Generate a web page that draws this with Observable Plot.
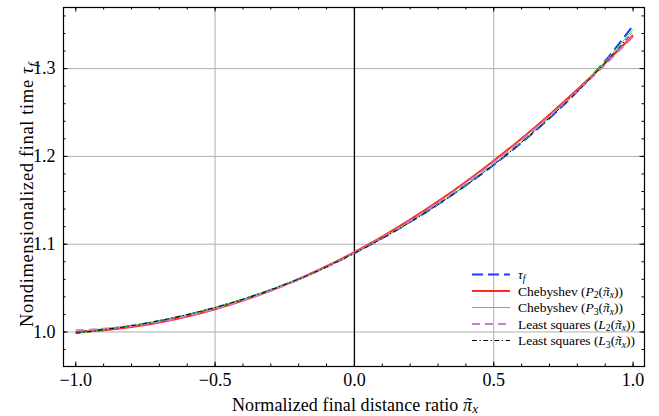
<!DOCTYPE html>
<html><head><meta charset="utf-8">
<script src="https://cdn.jsdelivr.net/npm/d3@7"></script>
<script src="https://cdn.jsdelivr.net/npm/@observablehq/plot@0.6"></script>
<style>body{margin:0;background:#fff}</style>
</head><body><div id="chart"></div>
<script>
// ---- data ----
const xs = [-1.0,-0.9,-0.8,-0.7,-0.6,-0.5,-0.4,-0.3,-0.2,-0.1,0.0,0.1,0.2,0.3,0.4,0.5,0.6,0.7,0.8,0.9,1.0];
const tauF = [1.0000,1.0029,1.0070,1.0125,1.0194,1.0276,1.0371,1.0480,1.0604,1.0744,1.0899,1.1069,1.1253,1.1453,1.1670,1.1904,1.2158,1.2435,1.2741,1.3088,1.3490];
const chebP2 = [1.0000,1.0021,1.0057,1.0109,1.0177,1.0260,1.0359,1.0473,1.0603,1.0749,1.0910,1.1087,1.1279,1.1487,1.1711,1.1950,1.2205,1.2475,1.2761,1.3063,1.3380];
const chebP3 = [0.9980,1.0023,1.0070,1.0129,1.0199,1.0281,1.0376,1.0484,1.0606,1.0745,1.0899,1.1068,1.1252,1.1452,1.1670,1.1906,1.2162,1.2442,1.2748,1.3082,1.3445];
const lsqL2 = [1.0020,1.0037,1.0069,1.0117,1.0182,1.0262,1.0358,1.0469,1.0597,1.0740,1.0899,1.1074,1.1265,1.1472,1.1694,1.1933,1.2187,1.2458,1.2744,1.3046,1.3365];
const lsqL3 = [0.9985,1.0025,1.0071,1.0129,1.0198,1.0279,1.0373,1.0481,1.0603,1.0742,1.0897,1.1067,1.1252,1.1453,1.1671,1.1907,1.2162,1.2439,1.2740,1.3067,1.3420];

const xMajor = [-1.0,-0.5,0.0,0.5,1.0];
const xMinor = [-1.0,-0.9,-0.8,-0.7,-0.6,-0.5,-0.4,-0.3,-0.2,-0.1,0.0,0.1,0.2,0.3,0.4,0.5,0.6,0.7,0.8,0.9,1.0];
const xGrid = [-0.5,0.5];
const xZero = [0.0];
const yMajor = [1.0,1.1,1.2,1.3];
const yMinor = [0.98,1.0,1.02,1.04,1.06,1.08,1.1,1.12,1.14,1.16,1.18,1.2,1.22,1.24,1.26,1.28,1.3,1.32,1.34,1.36];

const seriesNames = ["tau","P2","P3","L2","L3"];
const seriesValues = [tauF, chebP2, chebP3, lsqL2, lsqL3];

// ---- styles ----
const styles = {
  tau: {stroke:"#1a3cff", strokeWidth:2, dash:"11,5"},
  P2:  {stroke:"#ff2a1a", strokeWidth:2, dash:null},
  P3:  {stroke:"#2ee62e", strokeWidth:1, dash:null},
  L2:  {stroke:"#c77cd0", strokeWidth:2, dash:"8,5"},
  L3:  {stroke:"#000000", strokeWidth:1, dash:"5,2.5,1.2,2.5"}
};

const W = 659, H = 416, mL = 63, mR = 15, mT = 7, mB = 50;
const innerW = W - mL - mR, innerH = H - mT - mB;
const FONT = "Liberation Serif, serif";
const fmt = d => d.toFixed(1).replace("-", "\u2212");

const lineMarks = seriesNames.map((name, i) => {
  const s = styles[name];
  const rows = xs.map((x, j) => ({x, y: seriesValues[i][j]}));
  return Plot.line(rows, {x:"x", y:"y", stroke:s.stroke, strokeWidth:s.strokeWidth,
    strokeDasharray:s.dash, curve:"catmull-rom", strokeLinecap:"butt"});
});

const svg = Plot.plot({
  width: W, height: H,
  marginLeft: mL, marginRight: mR, marginTop: mT, marginBottom: mB,
  x: {domain: [-1.044, 1.041]},
  y: {domain: [0.9607, 1.3696]},
  style: {fontFamily: FONT, fontSize: "18px", background: "white", color: "black", overflow: "visible"},
  marks: [
    Plot.ruleY(yMajor, {y: d => d, stroke: "#b0b0b0", strokeWidth: 1}),
    Plot.ruleX(xGrid, {x: d => d, stroke: "#b0b0b0", strokeWidth: 1}),
    Plot.ruleX(xZero, {x: d => d, stroke: "black", strokeWidth: 1.3}),
    ...lineMarks,
    // inward ticks, all four sides
    Plot.tickX(xMajor, {x: d => d, insetTop: innerH - 4.5, stroke: "black"}),
    Plot.tickX(xMajor, {x: d => d, insetBottom: innerH - 4.5, stroke: "black"}),
    Plot.tickX(xMinor, {x: d => d, insetTop: innerH - 2.5, stroke: "black"}),
    Plot.tickX(xMinor, {x: d => d, insetBottom: innerH - 2.5, stroke: "black"}),
    Plot.tickY(yMajor, {y: d => d, insetRight: innerW - 4.5, stroke: "black"}),
    Plot.tickY(yMajor, {y: d => d, insetLeft: innerW - 4.5, stroke: "black"}),
    Plot.tickY(yMinor, {y: d => d, insetRight: innerW - 2.5, stroke: "black"}),
    Plot.tickY(yMinor, {y: d => d, insetLeft: innerW - 2.5, stroke: "black"}),
    Plot.frame({stroke: "black", strokeWidth: 1.2}),
    Plot.axisX({ticks: xMajor, tickSize: 0, tickPadding: 7, tickFormat: fmt, label: null, fontSize: 18, fontFamily: FONT}),
    Plot.axisY({ticks: yMajor, tickSize: 0, tickPadding: 8, tickFormat: fmt, label: null, fontSize: 18, fontFamily: FONT})
  ]
});

document.getElementById("chart").appendChild(svg);
const s = d3.select(svg);

// build a text from parts: kinds "" (roman), "i" (italic), "sub" (subscript), "pi" (italic pi with tilde)
function buildText(t, parts, size, subShift) {
  let sub = false;
  const fixes = [];
  const sd = size * (subShift || 0.2);
  parts.forEach(([txt, kind]) => {
    const sp = t.append("tspan").text(txt);
    if (kind === "i" || kind === "pi") sp.attr("font-style", "italic");
    if (kind === "sub") {
      sp.attr("font-size", size * 0.72).attr("dy", sd);
      if (/[a-z]/.test(txt)) sp.attr("font-style", "italic");
      sub = true;
    } else if (sub) { sp.attr("dy", -sd); sub = false; }
    if (kind === "pi") {
      const tl = t.append("tspan").text("\u02dc");
      fixes.push([sp, tl]);
    }
  });
  // center the tilde over pi, inline in the same text element
  fixes.forEach(([p, tl]) => {
    const wp = p.node().getComputedTextLength();
    const wt = tl.node().getComputedTextLength();
    const shift = size * 0.07;
    tl.attr("dx", -(wp + wt) / 2 + shift);
    const next = tl.node().nextSibling;
    const back = (wp - wt) / 2 - shift;
    if (next) d3.select(next).attr("dx", back);
  });
}

// ---- axis titles ----
const XT = 18;
const xl = s.append("text").attr("x", 232).attr("y", 410.5)
  .attr("text-anchor", "start").attr("font-family", FONT).attr("font-size", XT).attr("fill", "black");
buildText(xl, [["Normalized final distance ratio ", ""], ["\u03c0", "pi"], ["x", "sub"]], XT, 0.14);
xl.attr("textLength", 246).attr("lengthAdjust", "spacing");

const YT = 18.5;
const yl = s.append("text").attr("transform", `translate(33,327) rotate(-90)`)
  .attr("text-anchor", "start").attr("font-family", FONT).attr("font-size", YT).attr("fill", "black");
buildText(yl, [["Nondimensionalized final time ", ""], ["\u03c4", "i"], ["f", "sub"]], YT);
yl.attr("textLength", 264).attr("lengthAdjust", "spacing");

// ---- legend ----
const legendEntries = [
  {key: "tau", len: null, parts: [["\u03c4", "i"], ["f", "sub"]]},
  {key: "P2", len: 105, parts: [["Chebyshev (", ""], ["P", "i"], ["2", "sub"], ["(", ""], ["\u03c0", "pi"], ["x", "sub"], ["))", ""]]},
  {key: "P3", len: 105, parts: [["Chebyshev (", ""], ["P", "i"], ["3", "sub"], ["(", ""], ["\u03c0", "pi"], ["x", "sub"], ["))", ""]]},
  {key: "L2", len: 117, parts: [["Least squares (", ""], ["L", "i"], ["2", "sub"], ["(", ""], ["\u03c0", "pi"], ["x", "sub"], ["))", ""]]},
  {key: "L3", len: 117, parts: [["Least squares (", ""], ["L", "i"], ["3", "sub"], ["(", ""], ["\u03c0", "pi"], ["x", "sub"], ["))", ""]]}
];
const LF = 13.5;
const lg = s.append("g");
legendEntries.forEach((e, i) => {
  const cy = 274.5 + i * 16.5;
  const st = styles[e.key];
  lg.append("line").attr("x1", 472).attr("x2", 510).attr("y1", cy).attr("y2", cy)
    .attr("stroke", st.stroke).attr("stroke-width", st.strokeWidth)
    .attr("stroke-dasharray", st.dash);
  const t = lg.append("text").attr("x", 518).attr("y", cy + 4.5).attr("text-anchor", "start")
    .attr("font-family", FONT).attr("font-size", LF).attr("fill", "black");
  buildText(t, e.parts, LF);
  if (e.len) t.attr("textLength", e.len).attr("lengthAdjust", "spacing");
});
</script>
</body></html>
